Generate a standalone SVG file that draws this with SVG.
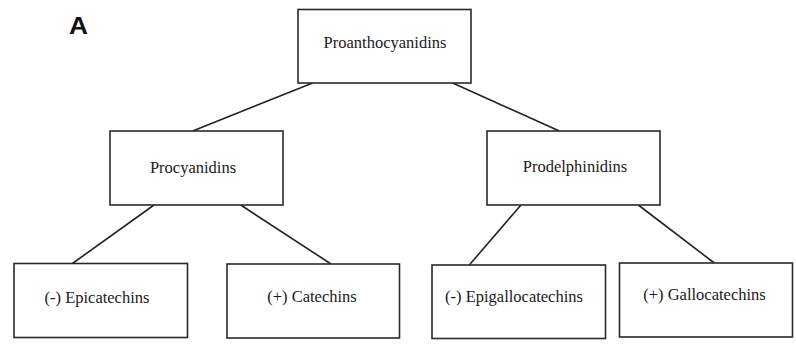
<svg xmlns="http://www.w3.org/2000/svg" width="796" height="345" viewBox="0 0 796 345">
<style>
.box{fill:#fff;stroke:#2a2a2a;stroke-width:1.6}
.lbl{font-size:16.5px;fill:#1a1a1a;text-anchor:middle}
.conn line{stroke:#222;stroke-width:1.6}
</style>
<rect width="796" height="345" fill="#fff"/>
<text x="69" y="33.5" font-family="'Liberation Sans', Arial, sans-serif" font-weight="700" font-size="23" fill="#111" textLength="19" lengthAdjust="spacingAndGlyphs">A</text>
<g id="connectors" class="conn">
<line x1="312.7" y1="83" x2="192.7" y2="131"/>
<line x1="452.7" y1="83" x2="559.3" y2="131"/>
<line x1="154" y1="205" x2="71.7" y2="264"/>
<line x1="240.7" y1="205" x2="331" y2="264"/>
<line x1="521" y1="205" x2="469.3" y2="265"/>
<line x1="638.3" y1="205" x2="714.3" y2="263"/>
</g>
<g font-family="'Liberation Serif', 'DejaVu Serif', serif">
<g id="proanthocyanidins">
<rect class="box" x="298" y="9.5" width="173" height="73.5"/>
<text class="lbl" x="385" y="48">Proanthocyanidins</text>
</g>
<g id="procyanidins">
<rect class="box" x="110" y="131" width="173" height="74"/>
<text class="lbl" x="193" y="172.5">Procyanidins</text>
</g>
<g id="prodelphinidins">
<rect class="box" x="487" y="131" width="173" height="74"/>
<text class="lbl" x="575" y="172">Prodelphinidins</text>
</g>
<g id="epicatechins">
<rect class="box" x="14" y="263.5" width="173.5" height="74"/>
<text class="lbl" x="97" y="302.5">(-) Epicatechins</text>
</g>
<g id="catechins">
<rect class="box" x="227" y="264" width="172.5" height="74"/>
<text class="lbl" x="312" y="302">(+) Catechins</text>
</g>
<g id="epigallocatechins">
<rect class="box" x="432" y="265" width="173.5" height="73.5"/>
<text class="lbl" x="514" y="301.5">(-) Epigallocatechins</text>
</g>
<g id="gallocatechins">
<rect class="box" x="619.5" y="263" width="173" height="74"/>
<text class="lbl" x="704.5" y="300">(+) Gallocatechins</text>
</g>
</g>
</svg>
